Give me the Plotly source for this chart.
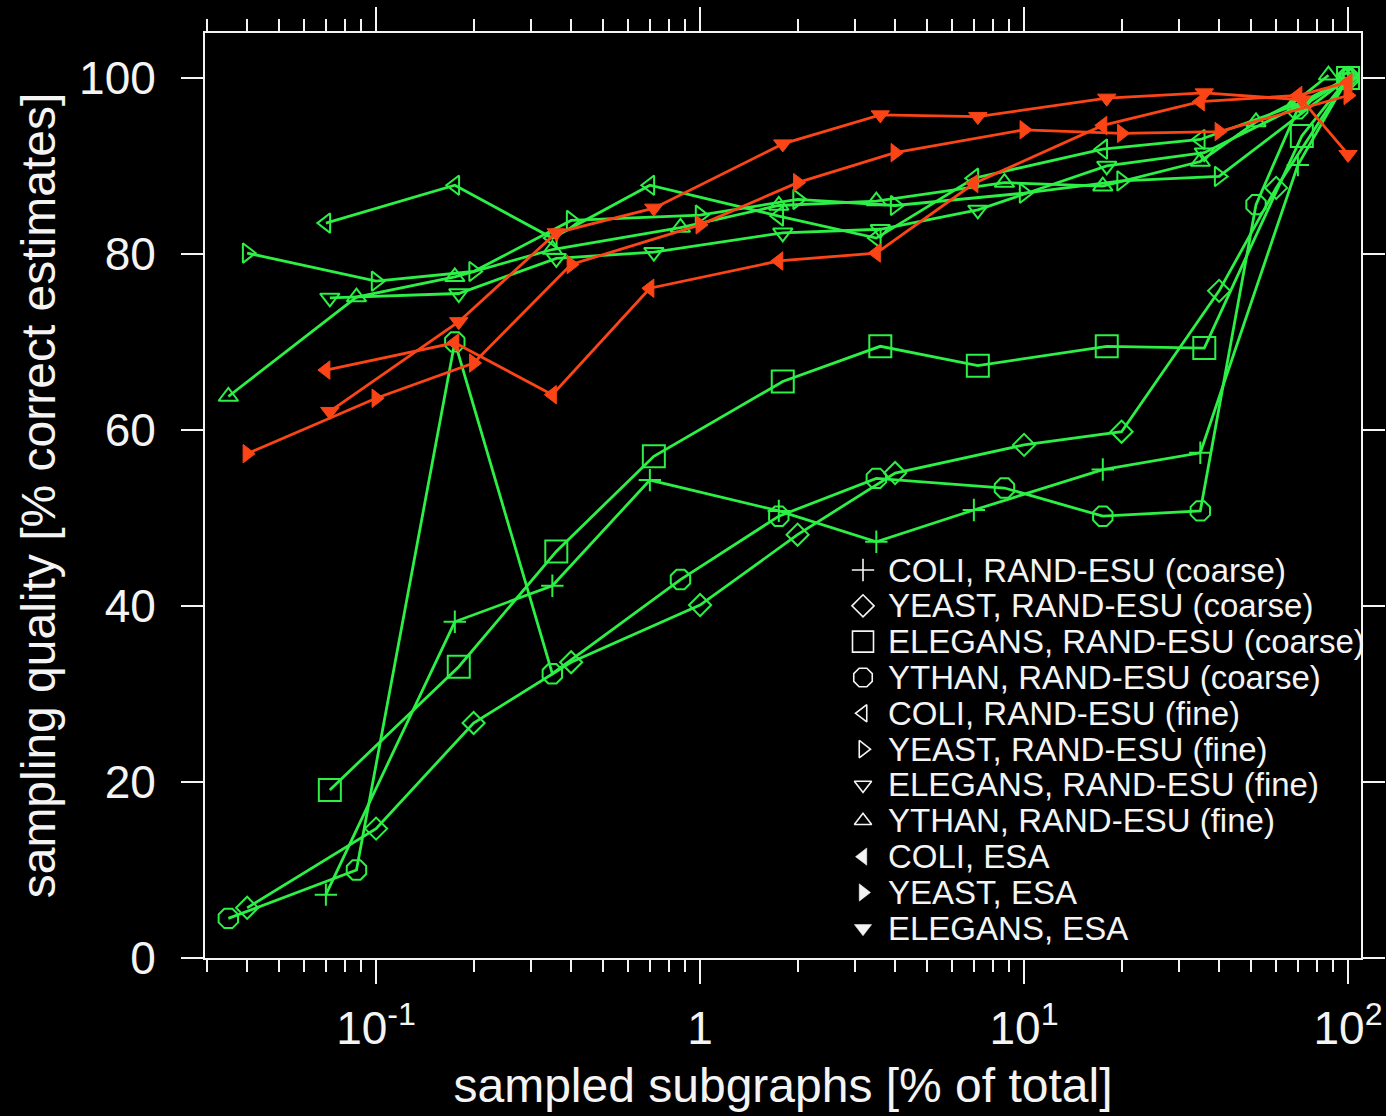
import math
import plotly.graph_objects as go

# ---------------- data ----------------
coli_x = [0.07, 0.175, 0.35, 0.7, 1.75, 3.5, 7, 17.5, 35, 70, 100]
yeast_x = [0.04, 0.1, 0.2, 0.4, 1, 2, 4, 10, 20, 40, 100]
yeast_coarse_x = [0.04, 0.1, 0.2, 0.4, 1, 2, 4, 10, 20, 40, 60, 100]
elegans_x = [0.072, 0.18, 0.36, 0.72, 1.8, 3.6, 7.2, 18, 36, 72, 100]
ythan_coarse_x = [0.035, 0.087, 0.175, 0.35, 0.87, 1.75, 3.5, 8.7, 17.5, 35, 52, 70, 100]
ythan_fine_x = [0.035, 0.087, 0.175, 0.35, 0.87, 1.75, 3.5, 8.7, 17.5, 35, 52, 70, 87]

coli_coarse_y = [7.2, 38.2, 42.3, 54.3, 50.8, 47.3, 50.9, 55.5, 57.4, 90.1, 100]
yeast_coarse_y = [5.7, 14.7, 26.7, 33.6, 40.1, 48.1, 55.1, 58.3, 59.8, 75.8, 87.5, 100]
elegans_coarse_y = [19.1, 33.1, 46.2, 57.0, 65.5, 69.5, 67.3, 69.5, 69.3, 93.4, 100]
ythan_coarse_y = [4.5, 10.0, 70.0, 32.3, 43.0, 50.2, 54.5, 53.4, 50.2, 50.8, 85.6, 96.5, 100]

coli_fine_y = [83.5, 87.8, 81.8, 87.8, 84.3, 81.8, 88.6, 91.9, 93.0, 97.0, 100]
yeast_fine_y = [80.1, 76.9, 78.0, 83.8, 84.4, 86.2, 85.5, 86.9, 88.3, 88.8, 100]
elegans_fine_y = [75.0, 75.5, 79.5, 80.2, 82.4, 82.8, 85.0, 90.0, 91.5, 97.0, 100]
ythan_fine_y = [63.8, 75.1, 77.4, 80.5, 83.0, 85.5, 86.0, 88.1, 87.7, 90.5, 95.0, 97.5, 100.3]

coli_esa_y = [66.8, 69.9, 64.0, 76.1, 79.2, 80.1, 88.0, 94.6, 97.3, 98.0, 99.5]
yeast_esa_y = [57.3, 63.6, 67.6, 78.8, 83.3, 88.1, 91.5, 94.1, 93.7, 93.9, 98.0]
elegans_esa_y = [62.1, 72.3, 82.4, 85.2, 92.5, 95.8, 95.6, 97.7, 98.3, 97.5, 91.3]

series_names = [
    "COLI, RAND-ESU (coarse)",
    "YEAST, RAND-ESU (coarse)",
    "ELEGANS, RAND-ESU (coarse)",
    "YTHAN, RAND-ESU (coarse)",
    "COLI, RAND-ESU (fine)",
    "YEAST, RAND-ESU (fine)",
    "ELEGANS, RAND-ESU (fine)",
    "YTHAN, RAND-ESU (fine)",
    "COLI, ESA",
    "YEAST, ESA",
    "ELEGANS, ESA",
]

x_tick_vals = [0.1, 1, 10, 100]
x_tick_text = ["10<sup>-1</sup>", "1", "10<sup>1</sup>", "10<sup>2</sup>"]
y_tick_vals = [0, 20, 40, 60, 80, 100]

# ---------------- style ----------------
GREEN = "#2cf046"
RED = "#fb4516"
WHITE = "#f4f4f4"
FONT = "Liberation Sans, Arial, Helvetica, sans-serif"

series = [
    (coli_x, coli_coarse_y, "cross-thin-open", 16, GREEN),
    (yeast_coarse_x, yeast_coarse_y, "diamond-open", 17, GREEN),
    (elegans_x, elegans_coarse_y, "square-open", 22, GREEN),
    (ythan_coarse_x, ythan_coarse_y, "octagon-open", 21, GREEN),
    (coli_x, coli_fine_y, "triangle-left-open", 17, GREEN),
    (yeast_x, yeast_fine_y, "triangle-right-open", 17, GREEN),
    (elegans_x, elegans_fine_y, "triangle-down-open", 17, GREEN),
    (ythan_fine_x, ythan_fine_y, "triangle-up-open", 17, GREEN),
    (coli_x, coli_esa_y, "triangle-left", 16, RED),
    (yeast_x, yeast_esa_y, "triangle-right", 16, RED),
    (elegans_x, elegans_esa_y, "triangle-down", 16, RED),
]
legend_sizes = [16, 17, 21, 20, 15, 15, 15, 15, 15, 15, 15]

X_RANGE = [-1.528, 2.040]
Y_RANGE = [0, 105.1]

fig = go.Figure()

for (xs, ys, sym, size, col), name in zip(series, series_names):
    filled = not sym.endswith("-open")
    fig.add_trace(go.Scatter(
        x=xs, y=ys, name=name, mode="lines+markers",
        line=dict(color=col, width=2.8),
        marker=dict(symbol=sym, size=size, color=col,
                    line=dict(color=col, width=2 if not filled else 1)),
        showlegend=False,
    ))

# ---------------- hand-built legend (white symbols, tight rows) ----------------
L, R, T, B = 205, 1361, 33, 958
row0, row_step = 570, 35.83
sym_px, text_px = 863, 886
for i, ((xs, ys, sym, size, col), name) in enumerate(zip(series, series_names)):
    py = row0 + i * row_step
    yf = (B - py) / (B - T)
    xf = (sym_px - L) / (R - L)
    filled = not sym.endswith("-open")
    fig.add_trace(go.Scatter(
        x=[xf], y=[yf], xaxis="x2", yaxis="y2", mode="markers",
        marker=dict(symbol=sym, size=legend_sizes[i], color=WHITE,
                    line=dict(color=WHITE, width=1.6 if not filled else 0.5)),
        showlegend=False, hoverinfo="skip",
    ))
    fig.add_annotation(
        xref="paper", yref="paper", x=(text_px - L) / (R - L), y=yf,
        xanchor="left", yanchor="middle", showarrow=False,
        text=name, font=dict(family=FONT, size=33, color=WHITE),
    )

minor_vals = []
for d in range(-2, 2):
    for k in range(2, 10):
        v = k * 10 ** d
        if X_RANGE[0] <= math.log10(v) <= X_RANGE[1]:
            minor_vals.append(v)

axis_common = dict(
    showline=True, linecolor=WHITE, linewidth=2, mirror="ticks",
    ticks="outside", tickcolor=WHITE, tickwidth=2,
    showgrid=False, zeroline=False, automargin=False,
    tickfont=dict(family=FONT, size=46, color=WHITE),
)

fig.update_layout(
    width=1386, height=1116,
    paper_bgcolor="black", plot_bgcolor="black",
    margin=dict(l=L, r=1386 - R, t=T, b=1116 - B),
    showlegend=False,
    xaxis=dict(
        type="log", range=X_RANGE,
        tickmode="array", tickvals=x_tick_vals, ticktext=x_tick_text,
        ticklen=24, ticklabelstandoff=5,
        minor=dict(tickmode="array", tickvals=minor_vals, ticks="outside",
                   ticklen=12, tickwidth=1.5, tickcolor=WHITE, showgrid=False),
        title=dict(text="sampled subgraphs [% of total]",
                   font=dict(family=FONT, size=48, color=WHITE), standoff=15),
        **axis_common,
    ),
    yaxis=dict(
        range=Y_RANGE, tickmode="array", tickvals=y_tick_vals,
        ticklen=22, ticklabelstandoff=16,
        title=dict(text="sampling quality [% correct estimates]",
                   font=dict(family=FONT, size=48, color=WHITE), standoff=8),
        **axis_common,
    ),
    xaxis2=dict(overlaying="x", range=[0, 1], visible=False, fixedrange=True),
    yaxis2=dict(overlaying="y", range=[0, 1], visible=False, fixedrange=True),
)

fig.write_html(
    "out.html",
    config={"displayModeBar": False},
    post_script="document.body.style.margin='0';document.body.style.background='black';",
)
